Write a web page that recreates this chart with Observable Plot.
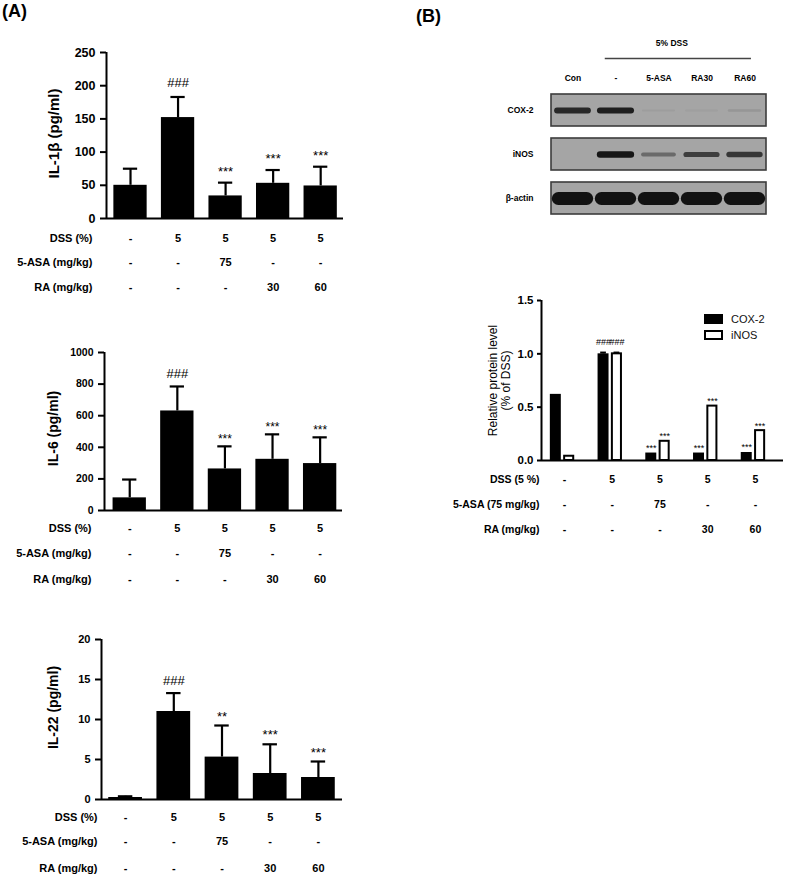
<!DOCTYPE html>
<html>
<head>
<meta charset="utf-8">
<script src="https://cdn.jsdelivr.net/npm/d3@7"></script>
<script src="https://cdn.jsdelivr.net/npm/@observablehq/plot@0.6"></script>
<style>
  body { margin: 0; background: #fff; font-family: "Liberation Sans", Arial, Helvetica, sans-serif; }
  #root { position: relative; width: 787px; height: 880px; overflow: hidden; background: #fff; }
  .panel-label { position: absolute; font-weight: bold; font-size: 18px; color: #000; }
  svg g[aria-label="blot band"] { filter: blur(1.3px); }
  svg g[aria-label="actin band"] { filter: blur(1.1px); }
  .legend { position: absolute; font-size: 11px; color: #111; }
  .legend .row { position: absolute; display: flex; align-items: center; white-space: nowrap; }
  .legend .box { box-sizing: border-box; width: 19px; height: 10px; margin-right: 8px; border: 2px solid #000; }
</style>
</head>
<body>
<div id="root"></div>
<script>
// ---------------- data ----------------
const groups = ["Con", "DSS", "DSS+5-ASA", "DSS+RA30", "DSS+RA60"];
const dssRow = ["-", "5", "5", "5", "5"];
const asaRow = ["-", "-", "75", "-", "-"];
const raRow  = ["-", "-", "-", "30", "60"];
const rowNamesA = ["DSS (%)", "5-ASA (mg/kg)", "RA (mg/kg)"];
const rowNamesB = ["DSS (5 %)", "5-ASA (75 mg/kg)", "RA (mg/kg)"];

const il1bMean = [50, 152, 34, 53, 49];
const il1bErr  = [25, 31, 20, 20, 29];
const il1bSig  = ["", "###", "***", "***", "***"];

const il6Mean = [80, 630, 263, 324, 297];
const il6Err  = [116, 155, 143, 158, 166];
const il6Sig  = ["", "###", "***", "***", "***"];

const il22Mean = [0.25, 11.0, 5.3, 3.25, 2.75];
const il22Err  = [0.15, 2.3, 3.95, 3.65, 2.0];
const il22Sig  = ["", "###", "**", "***", "***"];

const seriesNames = ["COX-2", "iNOS"];
const cox2Level = [0.62, 1.0, 0.07, 0.07, 0.075];
const cox2Err   = [0, 0.012, 0, 0, 0];
const inosLevel = [0.04, 1.0, 0.18, 0.51, 0.28];
const inosErr   = [0, 0.012, 0, 0, 0];
const cox2Sig   = ["", "###", "***", "***", "***"];
const inosSig   = ["", "###", "***", "***", "***"];

const laneLabels = ["Con", "-", "5-ASA", "RA30", "RA60"];
const dssLanes = [1, 2, 3, 4];
const blotRows = ["COX-2", "iNOS", "β-actin"];
const cox2Band  = [0.85, 0.92, 0.05, 0.04, 0.1];
const inosBand  = [0, 0.97, 0.4, 0.7, 0.75];
const actinBand = [1, 1, 1, 1, 1];

// ---------------- helpers ----------------
const FONT = '"Liberation Sans", Arial, Helvetica, sans-serif';
const root = document.getElementById("root");
function place(el, left, top) {
  el.style.position = "absolute";
  el.style.left = left + "px";
  el.style.top = top + "px";
  root.appendChild(el);
}
function label(text, left, top) {
  const d = document.createElement("div");
  d.className = "panel-label";
  d.textContent = text;
  d.style.left = left + "px";
  d.style.top = top + "px";
  root.appendChild(d);
}

// ---------------- cytokine bar chart ----------------
function cytokine(cfg) {
  const table = groups.map((g, i) => ({
    i, mean: cfg.mean[i], err: cfg.err[i], sig: cfg.sig[i],
    dss: dssRow[i], asa: asaRow[i], ra: raRow[i]
  }));
  const bw = 0.35, cw = 0.15;
  const [x0, x1] = cfg.xDomain;
  const ticks = d3.range(0, cfg.yMax + cfg.yStep / 2, cfg.yStep);
  const keys = ["dss", "asa", "ra"];
  return Plot.plot({
    width: cfg.width, height: cfg.height,
    marginLeft: cfg.ml, marginRight: cfg.mr, marginTop: cfg.mt, marginBottom: cfg.mb,
    x: { domain: [x0, x1], axis: null },
    y: { domain: [0, cfg.yMax], axis: null },
    style: { fontFamily: FONT, fontWeight: "bold", color: "#000", background: "transparent", overflow: "visible" },
    marks: [
      Plot.rect(table, { x1: d => d.i - bw, x2: d => d.i + bw, y1: 0, y2: "mean", fill: "#000" }),
      Plot.ruleX(table, { x: "i", y1: "mean", y2: d => d.mean + d.err, strokeWidth: 2.2, stroke: "#000" }),
      Plot.ruleY(table, { y: d => d.mean + d.err, x1: d => d.i - cw, x2: d => d.i + cw, strokeWidth: 2.2, stroke: "#000" }),
      Plot.ruleY([0], { strokeWidth: 2, stroke: "#000" }),
      Plot.ruleX([x0], { y1: 0, y2: cfg.yMax, strokeWidth: 2, stroke: "#000" }),
      Plot.axisY({ ticks, tickSize: 6, tickPadding: 5, tickFormat: "d", fontSize: cfg.tickFont, fontWeight: "bold", strokeWidth: 2, label: null }),
      Plot.text(table.filter(d => d.sig.startsWith("#")), {
        x: "i", y: d => d.mean + d.err, text: "sig", dy: -cfg.hashGap, fontSize: 13, fontWeight: "normal"
      }),
      Plot.text(table.filter(d => d.sig.startsWith("*")), {
        x: "i", y: d => d.mean + d.err, text: "sig", dy: -cfg.starGap + 3, fontSize: cfg.starFont, fontWeight: "normal"
      }),
      ...keys.map((k, r) => Plot.text(table, { x: "i", text: k, frameAnchor: "bottom", dy: cfg.rowDy[r], fontSize: 11, fontWeight: "bold" })),
      ...keys.map((k, r) => Plot.text([rowNamesA[r]], { frameAnchor: "bottom-left", dx: cfg.rowDx, dy: cfg.rowDy[r], textAnchor: "end", fontSize: 11, fontWeight: "bold" })),
      Plot.text([cfg.label], { frameAnchor: "left", textAnchor: "middle", rotate: -90, dx: cfg.labelDx, dy: cfg.labelDy, fontSize: cfg.labelFont, fontWeight: "bold" })
    ]
  });
}

// ---------------- protein bar chart ----------------
function protein() {
  const bw = 0.115, off = 0.14;
  const x0 = -0.44, x1 = 4.63;
  const table = [];
  groups.forEach((g, i) => {
    table.push({ i, s: seriesNames[0], pos: i - off, v: cox2Level[i], e: cox2Err[i], sig: cox2Sig[i] });
    table.push({ i, s: seriesNames[1], pos: i + off, v: inosLevel[i], e: inosErr[i], sig: inosSig[i] });
  });
  const rows = groups.map((g, i) => ({ i, dss: dssRow[i], asa: asaRow[i], ra: raRow[i] }));
  const keys = ["dss", "asa", "ra"];
  const rowDy = [22, 47, 72];
  return Plot.plot({
    width: 347, height: 260,
    marginLeft: 101, marginRight: 4, marginTop: 12, marginBottom: 88,
    x: { domain: [x0, x1], axis: null },
    y: { domain: [0, 1.5], axis: null },
    style: { fontFamily: FONT, fontWeight: "bold", color: "#000", background: "transparent", overflow: "visible" },
    marks: [
      Plot.rect(table.filter(d => d.s === seriesNames[0]), { x1: d => d.pos - bw, x2: d => d.pos + bw, y1: 0, y2: "v", fill: "#000" }),
      Plot.rect(table.filter(d => d.s === seriesNames[1]), { x1: d => d.pos - bw + 0.02, x2: d => d.pos + bw - 0.02, y1: 0, y2: "v", fill: "#fff", stroke: "#000", strokeWidth: 2 }),
      Plot.ruleX(table.filter(d => d.e > 0), { x: "pos", y1: "v", y2: d => d.v + d.e, strokeWidth: 2 }),
      Plot.ruleY(table.filter(d => d.e > 0), { y: d => d.v + d.e, x1: d => d.pos - 0.06, x2: d => d.pos + 0.06, strokeWidth: 2 }),
      Plot.ruleY([0], { strokeWidth: 2, stroke: "#000" }),
      Plot.ruleX([x0], { y1: 0, y2: 1.5, strokeWidth: 2, stroke: "#000" }),
      Plot.axisY({ ticks: [0, 0.5, 1, 1.5], tickSize: 4, tickPadding: 4, tickFormat: ".1f", fontSize: 11.5, fontWeight: "bold", strokeWidth: 2, label: null }),
      Plot.text(table.filter(d => d.sig.startsWith("#")), { x: "pos", y: d => d.v + d.e, text: "sig", dy: -10, fontSize: 9, fontWeight: "normal" }),
      Plot.text(table.filter(d => d.sig.startsWith("*")), { x: "pos", y: d => d.v + d.e, text: "sig", dy: -5, fontSize: 9, fontWeight: "normal" }),
      ...keys.map((k, r) => Plot.text(rows, { x: "i", text: k, frameAnchor: "bottom", dy: rowDy[r], dx: 2, fontSize: 10.5, fontWeight: "bold" })),
      ...keys.map((k, r) => Plot.text([rowNamesB[r]], { frameAnchor: "bottom-left", dx: -2, dy: rowDy[r], textAnchor: "end", fontSize: 10.5, fontWeight: "bold" })),
      Plot.text(["Relative protein level\n(% of DSS)"], { frameAnchor: "left", textAnchor: "middle", rotate: -90, dx: -42, dy: 0, fontSize: 12, lineHeight: 1.05, fontWeight: "normal" })
    ]
  });
}

// ---------------- western blot ----------------
function blot() {
  const lanes = laneLabels.map((t, i) => ({ t, i }));
  const bands = [];
  [cox2Band, inosBand].forEach((arr, r) => arr.forEach((v, i) => {
    if (v > 0) bands.push({ row: blotRows[r], i, v });
  }));
  const actin = actinBand.map((v, i) => ({ row: blotRows[2], i, v }));
  const lineX1 = dssLanes[0] + 0.25, lineX2 = dssLanes[dssLanes.length - 1] + 0.65;
  return Plot.plot({
    width: 307, height: 200,
    marginLeft: 71, marginRight: 21, marginTop: 68, marginBottom: 10,
    x: { domain: [0, laneLabels.length], axis: null },
    y: { type: "band", domain: blotRows, paddingInner: 0.27, paddingOuter: 0, axis: null },
    opacity: { type: "identity" },
    style: { fontFamily: FONT, fontWeight: "bold", color: "#000", background: "transparent", overflow: "visible" },
    marks: [
      Plot.barX(blotRows, { y: d => d, x1: 0, x2: laneLabels.length, fill: "#a5a5a5", stroke: "#3c3c3c", strokeWidth: 1.6 }),
      Plot.ruleY(bands, {
        y: "row", x1: d => d.i + 0.5 - 0.36, x2: d => d.i + 0.5 + 0.36,
        stroke: "#121212", strokeOpacity: "v", strokeWidth: d => 2 + 4.5 * d.v, strokeLinecap: "round",
        ariaLabel: "blot band"
      }),
      Plot.ruleY(actin, {
        y: "row", x1: d => d.i + 0.17, x2: d => d.i + 0.83,
        stroke: "#121212", strokeOpacity: "v", strokeWidth: 13, strokeLinecap: "round",
        ariaLabel: "actin band"
      }),
      Plot.text(lanes, { x: d => d.i + 0.5, text: "t", frameAnchor: "top", dy: -19, fontSize: 8.5, fontWeight: "bold" }),
      Plot.text(["5% DSS"], { x: (lineX1 + lineX2) / 2 - 0.15, frameAnchor: "top", dy: -54, fontSize: 8.5, fontWeight: "bold" }),
      Plot.ruleY([blotRows[0]], { x1: lineX1, x2: lineX2, dy: -52, stroke: "#444", strokeWidth: 1.3 }),
      Plot.text(blotRows, { y: d => d, frameAnchor: "left", dx: -18, textAnchor: "end", fontSize: 8.5, fontWeight: "bold" })
    ]
  });
}

// ---------------- layout ----------------
label("(A)", 2, 1);
label("(B)", 416, 6);

place(cytokine({
  mean: il1bMean, err: il1bErr, sig: il1bSig, yMax: 250, yStep: 50,
  label: "IL-1β (pg/ml)", labelFont: 15, labelDx: -52, labelDy: -2,
  width: 360, height: 265, ml: 106, mr: 17, mt: 12, mb: 87,
  xDomain: [-0.505, 4.48], tickFont: 12.5,
  hashGap: 14, starGap: 14, starFont: 13,
  rowDy: [23, 47, 72], rowDx: -14
}), 0, 40);

place(cytokine({
  mean: il6Mean, err: il6Err, sig: il6Sig, yMax: 1000, yStep: 200,
  label: "IL-6 (pg/ml)", labelFont: 14, labelDx: -51, labelDy: -3,
  width: 360, height: 260, ml: 104, mr: 18, mt: 12, mb: 90,
  xDomain: [-0.53, 4.47], tickFont: 10.5,
  hashGap: 13, starGap: 10, starFont: 12,
  rowDy: [21, 46, 72], rowDx: -13
}), 0, 340);

place(cytokine({
  mean: il22Mean, err: il22Err, sig: il22Sig, yMax: 20, yStep: 5,
  label: "IL-22 (pg/ml)", labelFont: 14, labelDx: -48, labelDy: -12,
  width: 360, height: 253, ml: 101, mr: 18, mt: 12, mb: 81,
  xDomain: [-0.5, 4.5], tickFont: 11,
  hashGap: 12, starGap: 12, starFont: 13,
  rowDy: [21, 45, 72], rowDx: -4
}), 0, 627);

place(blot(), 480, 25);
place(protein(), 440, 288);

// legend for panel B chart (HTML, beside the SVG)
const legend = document.createElement("div");
legend.className = "legend";
legend.style.left = "704px";
legend.style.top = "314px";
seriesNames.forEach((name, k) => {
  const row = document.createElement("div");
  row.className = "row";
  row.style.top = (k * 16 - 1) + "px";
  row.style.left = "0px";
  const box = document.createElement("span");
  box.className = "box";
  box.style.background = k === 0 ? "#000" : "#fff";
  const txt = document.createElement("span");
  txt.textContent = name;
  row.appendChild(box);
  row.appendChild(txt);
  legend.appendChild(row);
});
root.appendChild(legend);
</script>
</body>
</html>
